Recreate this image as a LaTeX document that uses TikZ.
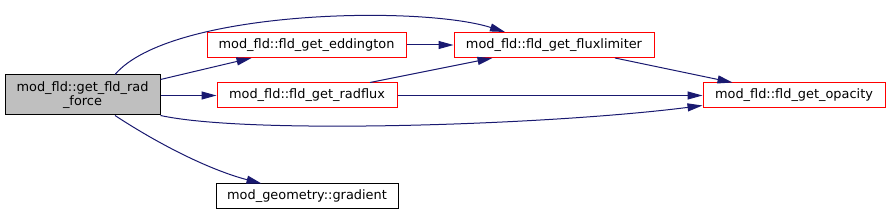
\documentclass[tikz,border=0pt]{standalone}
\usepackage{fontspec}
\setmainfont{DejaVu Sans}
\usetikzlibrary{arrows.meta,calc}
\definecolor{edgeblue}{HTML}{191970}
\tikzset{
  fnbox/.style={draw=red, line width=1pt, fill=white, inner sep=0pt,
    minimum height=25pt, font=\fontsize{12.9}{15}\selectfont},
  calls/.style={draw=edgeblue, line width=1pt,
    -{Triangle[length=15pt,width=8pt,fill=edgeblue]}}
}
\begin{document}
\begin{tikzpicture}[x=1pt,y=-1pt]
    \useasboundingbox (0,0) rectangle (889,216);

    % caller
    \node[fnbox, draw=black, fill=black!25, minimum width=155pt, minimum height=40pt,
      align=center, font=\fontsize{12.9}{14.5}\selectfont] (main) at (82.5,95)
      {mod\_fld::get\_fld\_rad\\\_force};

    % callees
    \node[fnbox, minimum width=199pt] (edd) at (306.5,45) {mod\_fld::fld\_get\_eddington};
    \node[fnbox, minimum width=180pt] (rad) at (307,95.5) {mod\_fld::fld\_get\_radflux};
    \node[fnbox, minimum width=200pt] (flux) at (554,45) {mod\_fld::fld\_get\_fluxlimiter};
    \node[fnbox, minimum width=182pt] (opa) at (794,95.5) {mod\_fld::fld\_get\_opacity};
    \node[fnbox, draw=black, minimum width=182pt] (grad) at (307,196.5) {mod\_geometry::gradient};

    % edges from the caller
    \draw[calls] ($(main.north)+(32.5,0)$) .. controls (170,10) and (420,5) .. ($(flux.north)+(-49,0)$);
    \draw[calls] ($(main.north east)+(0,5)$) -- ($(edd.south west)+(45,0)$);
    \draw[calls] (main.east |- rad.west) -- (rad.west);
    \draw[calls] (main.south east) .. controls (250,135) and (550,125) .. ($(opa.west)+(0,10)$);
    \draw[calls] ($(main.south)+(32.5,0)$) .. controls (160,145) and (210,170) .. ($(grad.north west)+(46,0)$);

    % edges between callees
    \draw[calls] (edd.east) -- (flux.west);
    \draw[calls] ($(rad.north)+(63,0)$) -- ($(flux.south west)+(39,0)$);
    \draw[calls] (rad.east) -- (opa.west);
    \draw[calls] ($(flux.south)+(61,0)$) -- ($(opa.north west)+(30,0)$);
\end{tikzpicture}
\end{document}
